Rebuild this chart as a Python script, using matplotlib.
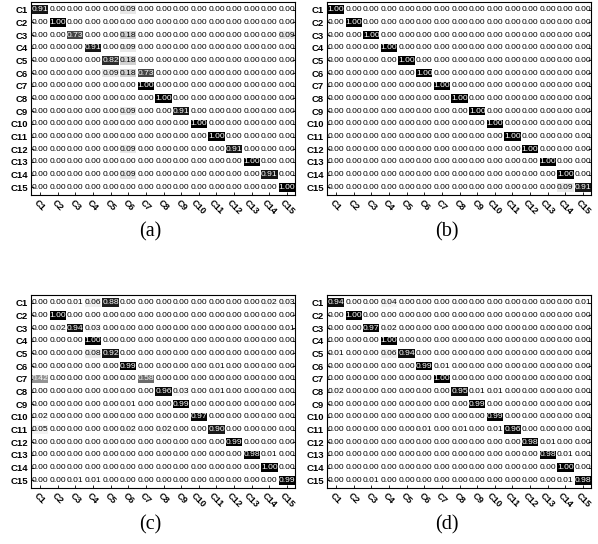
import numpy as np
import matplotlib
matplotlib.use("Agg")
import matplotlib.pyplot as plt
from matplotlib.patches import Rectangle

labels = ["C%d" % i for i in range(1, 16)]

# diagonal values and off-diagonal entries (row, col, value), 1-based
diag_a = [0.91, 1.00, 0.73, 0.91, 0.82, 0.18, 1.00, 1.00, 0.91, 1.00, 1.00, 0.91, 1.00, 0.91, 1.00]
off_a = [(1, 6, 0.09), (3, 6, 0.18), (3, 15, 0.09), (4, 6, 0.09), (5, 6, 0.18),
         (6, 5, 0.09), (6, 7, 0.73), (9, 6, 0.09), (12, 6, 0.09), (14, 6, 0.09)]

diag_b = [1.00] * 14 + [0.91]
off_b = [(15, 14, 0.09)]

diag_c = [0.00, 1.00, 0.94, 1.00, 0.92, 0.99, 0.58, 0.96, 0.99, 0.97, 0.90, 0.99, 0.98, 1.00, 0.99]
off_c = [(1, 3, 0.01), (1, 4, 0.06), (1, 5, 0.88), (1, 14, 0.02), (1, 15, 0.03),
         (3, 2, 0.02), (3, 4, 0.03), (3, 15, 0.01), (5, 4, 0.08), (6, 11, 0.01),
         (7, 1, 0.42), (8, 9, 0.03), (8, 11, 0.01), (9, 6, 0.01), (10, 1, 0.02),
         (11, 1, 0.05), (11, 6, 0.02), (11, 8, 0.02), (13, 14, 0.01),
         (15, 3, 0.01), (15, 4, 0.01)]

diag_d = [0.94, 1.00, 0.97, 1.00, 0.94, 0.99, 1.00, 0.95, 0.99, 0.99, 0.96, 0.98, 0.98, 1.00, 0.98]
off_d = [(1, 4, 0.04), (1, 15, 0.01), (3, 4, 0.02), (5, 1, 0.01), (5, 4, 0.06),
         (6, 7, 0.01), (8, 1, 0.02), (8, 9, 0.01), (8, 10, 0.01), (11, 6, 0.01),
         (11, 8, 0.01), (11, 10, 0.01), (12, 13, 0.01), (13, 14, 0.01),
         (15, 3, 0.01), (15, 14, 0.01)]

captions = ["(a)", "(b)", "(c)", "(d)"]


def build_matrix(diag, off):
    m = np.diag(np.array(diag, dtype=float))
    for r, c, v in off:
        m[r - 1, c - 1] = v
    return m


def draw_matrix(ax, m):
    cmap = plt.get_cmap("gray_r")
    n = m.shape[0]
    for i in range(n):
        for j in range(n):
            v = m[i, j]
            if v > 0:
                ax.add_patch(Rectangle((j - 0.46, i - 0.33), 0.92, 0.66,
                                       facecolor=cmap(v), edgecolor="none", zorder=1))
            ax.text(j, i, "%.2f" % v, ha="center", va="center",
                    fontsize=6.1, family="Liberation Sans",
                    color="white" if v >= 0.4 else "black", zorder=2)
    ax.set_xlim(-0.51, 14.45)
    ax.set_ylim(14.6, -0.6)
    ax.set_yticks(range(n))
    ax.set_yticklabels(labels, fontsize=6.8, fontweight="bold", family="Liberation Sans")
    ax.set_xticks(range(n))
    ax.set_xticklabels(labels, fontsize=6.6, fontweight="bold", family="Liberation Sans",
                       rotation=-45, ha="center", va="top")
    ax.tick_params(direction="in", length=2.5, width=0.6, left=True, right=True,
                   bottom=True, top=False, pad=2)
    for s in ax.spines.values():
        s.set_linewidth(0.8)


fig = plt.figure(figsize=(5.98, 5.44), dpi=100)
W, H = 598.0, 544.0
mats = [build_matrix(diag_a, off_a), build_matrix(diag_b, off_b),
        build_matrix(diag_c, off_c), build_matrix(diag_d, off_d)]
lefts = [31, 327, 31, 327]
tops = [2, 2, 295, 295]
cap_x = [150, 447, 150, 447]
cap_y = [232, 232, 525, 525]

for k in range(4):
    ax = fig.add_axes([lefts[k] / W, 1 - (tops[k] + 193) / H, 264 / W, 193 / H])
    draw_matrix(ax, mats[k])
    fig.text(cap_x[k] / W, 1 - cap_y[k] / H, captions[k], ha="center", va="center",
             fontsize=14.5, family="Liberation Serif")

fig.savefig("out.png", dpi=100)
